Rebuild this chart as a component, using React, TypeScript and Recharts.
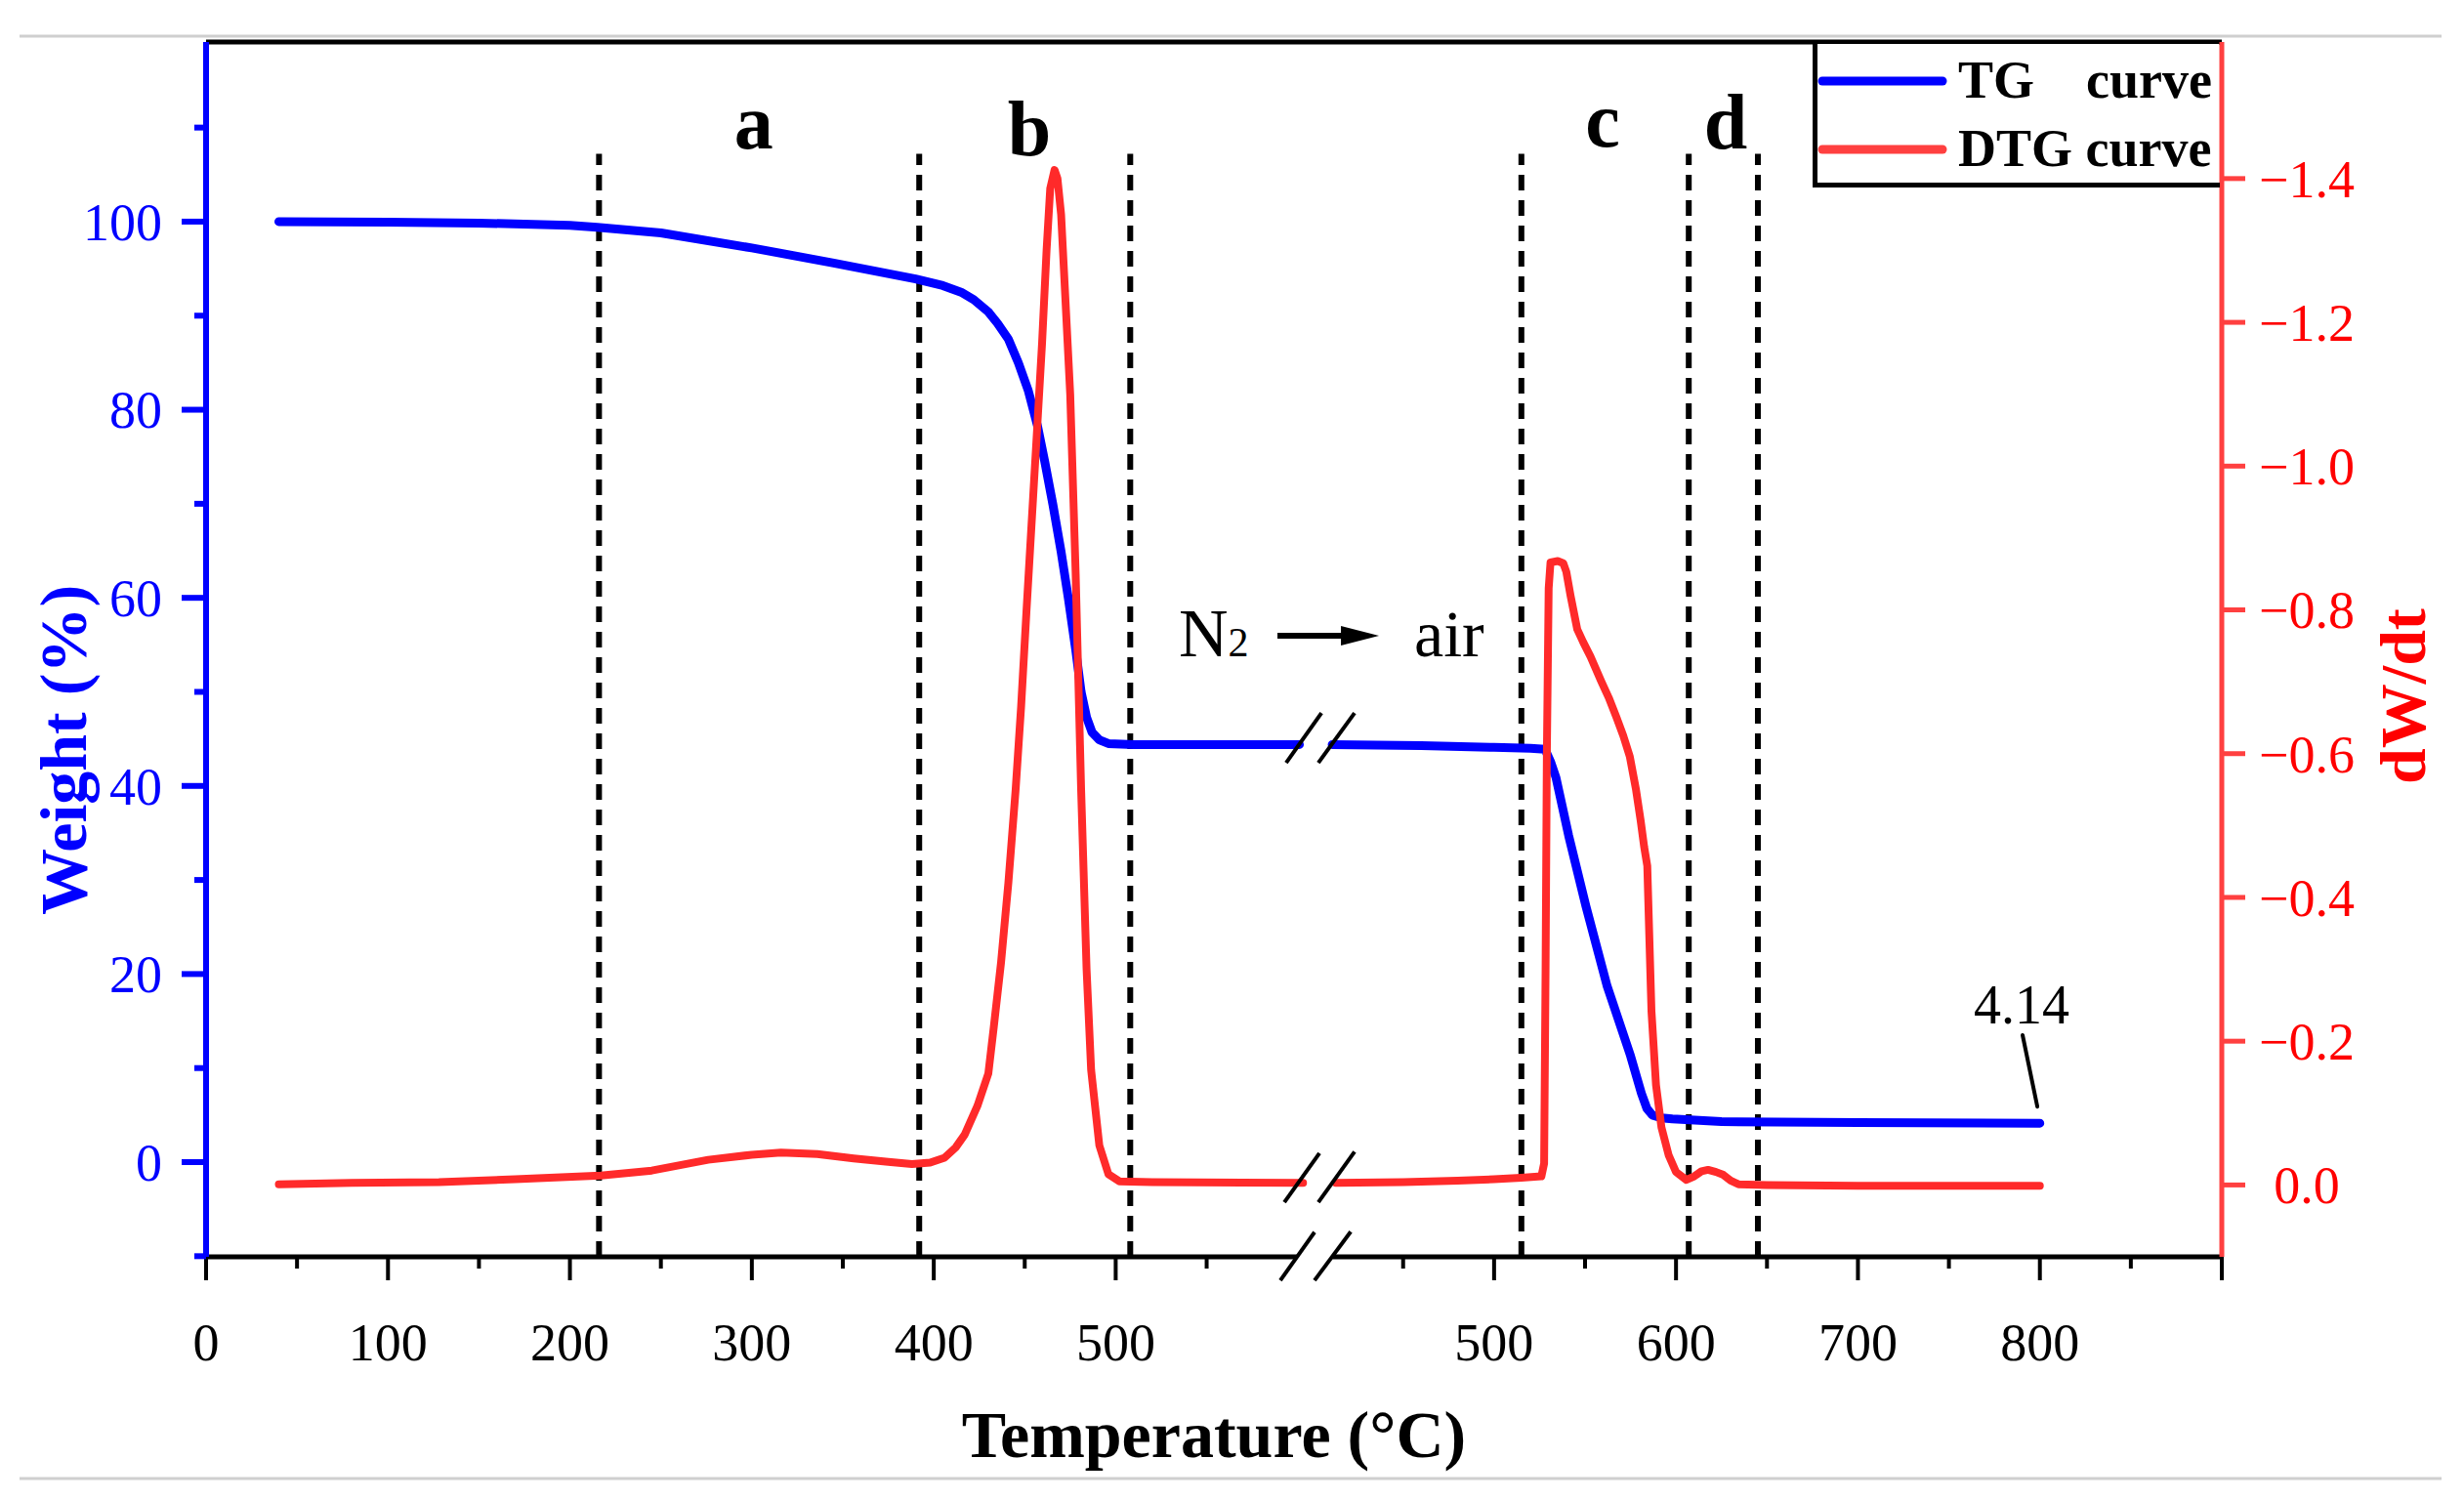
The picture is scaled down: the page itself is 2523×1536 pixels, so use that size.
import React from 'react';
import { LineChart, Line, XAxis, YAxis, ReferenceLine, ReferenceDot, Label } from 'recharts';

const FONT = "'Liberation Serif', 'Times New Roman', Times, serif";
const CHART_W = 2507;
const CHART_H = 1520;

// broken temperature axis: the "air" part is drawn shifted by BREAK_OFFSET axis units
const BREAK_OFFSET = 208;
const X_END = 900;

// TG (weight %) — N2 part, [T, weight]
const TG_N2: [number, number][] = [
  [40, 100.0], [100, 99.95], [150, 99.85], [200, 99.6], [215, 99.4], [250, 98.8], [300, 97.2],
  [345, 95.6], [390, 93.9], [405, 93.2], [415, 92.5], [422, 91.7], [430, 90.4], [435, 89.2],
  [441, 87.5], [446.5, 85.0], [452, 82.0], [457, 78.3], [461, 74.5], [465.5, 69.9], [470, 64.9],
  [474, 59.9], [478, 54.5], [481, 50.0], [484, 47.3], [487, 45.7], [491, 44.9], [496, 44.5],
  [510, 44.4], [601, 44.4],
];
// TG — air part
const TG_AIR: [number, number][] = [
  [411, 44.4], [460, 44.3], [500, 44.1], [520, 44.0], [528, 43.9], [531, 42.6], [534, 40.9],
  [541, 34.7], [550.5, 27.2], [562, 18.8], [575, 11.3], [581, 7.3], [584, 5.7], [587, 5.0], [592, 4.7],
  [598, 4.6], [625, 4.3], [700, 4.2], [800, 4.14],
];
// DTG (dW/dt) — N2 part
const DTG_N2: [number, number][] = [
  [40, -0.001], [80, -0.003], [128, -0.004], [170, -0.008], [217, -0.013], [245, -0.02],
  [276, -0.035], [300, -0.042], [316, -0.045], [336, -0.043], [356, -0.037], [375, -0.032],
  [388, -0.029], [398, -0.031], [406, -0.038], [412, -0.052], [417, -0.07], [424, -0.11],
  [430, -0.155], [433, -0.22], [437, -0.31], [441, -0.42], [445, -0.55], [448, -0.665],
  [451, -0.8], [454, -0.93], [457, -1.06], [459.5, -1.17], [462, -1.3], [464, -1.386],
  [466.4, -1.412], [468, -1.4], [470, -1.35], [472, -1.25], [475, -1.1], [478, -0.85],
  [481, -0.55], [484, -0.3], [486.5, -0.16], [491, -0.055], [496, -0.015], [502, -0.005],
  [520, -0.004], [603, -0.003],
];
// DTG — air part
const DTG_AIR: [number, number][] = [
  [413, -0.003], [450, -0.004], [480, -0.006], [500, -0.008], [515, -0.01], [526, -0.012],
  [527.5, -0.03], [528.3, -0.3], [529, -0.6], [530, -0.83], [531, -0.866], [535, -0.868],
  [538, -0.865], [539.7, -0.853], [542, -0.82], [545.7, -0.773], [549, -0.755], [553, -0.735],
  [559, -0.7], [563, -0.678], [567.2, -0.651], [571, -0.625], [574.6, -0.596], [578, -0.55],
  [580.6, -0.506], [582.5, -0.47], [584.2, -0.444], [585.3, -0.347], [586.5, -0.242],
  [589, -0.139], [592, -0.08], [596, -0.041], [600, -0.018], [605.7, -0.007], [610, -0.012],
  [614, -0.019], [617.6, -0.021], [622, -0.018], [626, -0.014], [630, -0.006], [634.3, -0.001],
  [650, 0], [700, 0.001], [800, 0.001],
];

// axis ticks
const W_MAJOR = [0, 20, 40, 60, 80, 100];
const W_MINOR = [-10, 10, 30, 50, 70, 90, 110];
const D_TICKS = [-1.4, -1.2, -1.0, -0.8, -0.6, -0.4, -0.2, 0];
const X_MAJOR_N2 = [0, 100, 200, 300, 400, 500];
const X_MINOR_N2 = [50, 150, 250, 350, 450, 550];
const X_MAJOR_AIR = [500, 600, 700, 800, 900];
const X_MINOR_AIR = [450, 550, 650, 750, 850];

// stage dividers (temperatures) and stage letters
const DIVIDERS_N2 = [216, 392, 508];
const DIVIDERS_AIR = [515, 607, 645];
const DIVIDER_TOP = 107.2;
const STAGES: { text: string; t: number; air: boolean; w: number }[] = [
  { text: 'a', t: 301, air: false, w: 107.8 },
  { text: 'b', t: 452.5, air: false, w: 107.1 },
  { text: 'c', t: 559.7, air: true, w: 108.0 },
  { text: 'd', t: 627.3, air: true, w: 107.8 },
];

const W_DOMAIN: [number, number] = [-10.07, 119.1];
const D_DOMAIN: [number, number] = [-1.59, 0.1];

// x-axis line pieces and break slashes (axis units / weight units)
const AXIS_PIECES: [number, number][] = [[0, 599.6], [619.3, X_END + BREAK_OFFSET]];
const BREAK_SLASHES: [number, number, number, number][] = [
  [593.7, 42.46, 613.1, 47.76], [611.4, 42.46, 631.3, 47.76],
  [592.7, -4.26, 612.0, 0.95], [611.4, -4.26, 631.3, 1.1],
  [590.5, -12.57, 609.3, -7.45], [609.3, -12.57, 629.2, -7.4],
];

const toN2 = (rows: [number, number][], key: string) => rows.map(([t, v]) => ({ pos: t, [key]: v }));
const toAir = (rows: [number, number][], key: string) => rows.map(([t, v]) => ({ pos: t + BREAK_OFFSET, [key]: v }));

const xTickInfo = new Map<number, { major: boolean; label: string }>();
X_MAJOR_N2.forEach((t) => xTickInfo.set(t, { major: true, label: String(t) }));
X_MINOR_N2.forEach((t) => xTickInfo.set(t, { major: false, label: '' }));
X_MAJOR_AIR.forEach((t) => xTickInfo.set(t + BREAK_OFFSET, { major: true, label: t === X_END ? '' : String(t) }));
X_MINOR_AIR.forEach((t) => xTickInfo.set(t + BREAK_OFFSET, { major: false, label: '' }));
const X_TICKS = Array.from(xTickInfo.keys()).sort((a, b) => a - b);

const LeftTick = (props: any) => {
  const { x, y, payload } = props;
  const v = payload.value;
  const major = W_MAJOR.includes(v);
  return (
    <g>
      <line x1={x - (major ? 25 : 12)} x2={x} y1={y} y2={y} stroke="#0000ff" strokeWidth={6} />
      {major && (
        <text x={x - 45} y={y} dy="0.35em" textAnchor="end" fill="#0000ff" fontSize={54} fontFamily={FONT}>
          {v}
        </text>
      )}
    </g>
  );
};

const RightTick = (props: any) => {
  const { x, y, payload } = props;
  const v = payload.value;
  const txt = Math.abs(v) < 1e-9 ? '0.0' : '\u2212' + Math.abs(v).toFixed(1);
  return (
    <g>
      <line x1={x} x2={x + 24} y1={y} y2={y} stroke="#ff4040" strokeWidth={5} />
      <text x={x + 87} y={y} dy="0.35em" textAnchor="middle" fill="#ff0000" fontSize={54} fontFamily={FONT}>
        {txt}
      </text>
    </g>
  );
};

const BottomTick = (props: any) => {
  const { x, y, payload } = props;
  const info = xTickInfo.get(payload.value) || { major: false, label: '' };
  return (
    <g>
      <line x1={x} x2={x} y1={y} y2={y + (info.major ? 24 : 12)} stroke="#000" strokeWidth={4} />
      {info.label && (
        <text x={x} y={y + 106} textAnchor="middle" fill="#000" fontSize={54} fontFamily={FONT}>
          {info.label}
        </text>
      )}
    </g>
  );
};

export default function App() {
  const xEnd = X_END + BREAK_OFFSET;
  return (
    <div style={{ position: 'relative', width: CHART_W, height: CHART_H }}>
      <LineChart width={CHART_W} height={CHART_H} margin={{ top: 35, right: 0, bottom: 0, left: 0 }}>
        <XAxis
          type="number"
          dataKey="pos"
          domain={[0, xEnd]}
          allowDataOverflow
          ticks={X_TICKS}
          interval={0}
          tick={BottomTick}
          tickLine={false}
          tickSize={0}
          tickMargin={0}
          axisLine={false}
          height={241}
        >
          <Label
            content={() => (
              <text x={1235} y={1484} textAnchor="middle" fontSize={68} fontWeight="bold" fontFamily={FONT} fill="#000">
                Temperature (°C)
              </text>
            )}
          />
        </XAxis>
        <YAxis
          yAxisId="w"
          orientation="left"
          type="number"
          domain={W_DOMAIN}
          allowDataOverflow
          ticks={[...W_MINOR, ...W_MAJOR].sort((a, b) => a - b)}
          interval={0}
          tick={LeftTick}
          tickLine={false}
          tickSize={0}
          tickMargin={0}
          axisLine={{ stroke: '#0000ff', strokeWidth: 6 }}
          width={203}
        >
          <Label
            content={() => (
              <text x={80} y={760} transform="rotate(-90 80 760)" textAnchor="middle" fontSize={68} fontWeight="bold" fontFamily={FONT} fill="#0000ff">
                Weight (%)
              </text>
            )}
          />
        </YAxis>
        <YAxis
          yAxisId="d"
          orientation="right"
          type="number"
          domain={D_DOMAIN}
          reversed
          allowDataOverflow
          ticks={D_TICKS}
          interval={0}
          tick={RightTick}
          tickLine={false}
          tickSize={0}
          tickMargin={0}
          axisLine={{ stroke: '#ff4040', strokeWidth: 5 }}
          width={240}
        >
          <Label
            content={() => (
              <text x={2475} y={705} transform="rotate(-90 2475 705)" textAnchor="middle" fontSize={66} fontWeight="bold" fontFamily={FONT} fill="#ff0000">
                dW/dt
              </text>
            )}
          />
        </YAxis>

        {/* frame top line */}
        <ReferenceLine yAxisId="w" y={W_DOMAIN[1]} stroke="#000" strokeWidth={5} ifOverflow="visible" />
        {/* broken x-axis line */}
        {AXIS_PIECES.map(([a, b], i) => (
          <ReferenceLine
            key={'ax' + i}
            yAxisId="w"
            segment={[{ x: a, y: W_DOMAIN[0] }, { x: b, y: W_DOMAIN[0] }]}
            stroke="#000"
            strokeWidth={5}
            ifOverflow="visible"
          />
        ))}
        {/* stage dividers */}
        {[...DIVIDERS_N2, ...DIVIDERS_AIR.map((t) => t + BREAK_OFFSET)].map((p, i) => (
          <ReferenceLine
            key={'dv' + i}
            yAxisId="w"
            segment={[{ x: p, y: W_DOMAIN[0] }, { x: p, y: DIVIDER_TOP }]}
            stroke="#000"
            strokeWidth={6}
            strokeDasharray="16 10"
            ifOverflow="visible"
          />
        ))}

        <Line
          yAxisId="w"
          data={toN2(TG_N2, 'w')}
          dataKey="w"
          stroke="#0000ff"
          strokeWidth={9}
          strokeLinecap="round"
          strokeLinejoin="round"
          dot={false}
          activeDot={false}
          isAnimationActive={false}
          type="linear"
        />
        <Line
          yAxisId="w"
          data={toAir(TG_AIR, 'w')}
          dataKey="w"
          stroke="#0000ff"
          strokeWidth={9}
          strokeLinecap="round"
          strokeLinejoin="round"
          dot={false}
          activeDot={false}
          isAnimationActive={false}
          type="linear"
        />
        <Line
          yAxisId="d"
          data={toN2(DTG_N2, 'd')}
          dataKey="d"
          stroke="#ff2a2a"
          strokeWidth={8}
          strokeLinecap="round"
          strokeLinejoin="round"
          dot={false}
          activeDot={false}
          isAnimationActive={false}
          type="linear"
        />
        <Line
          yAxisId="d"
          data={toAir(DTG_AIR, 'd')}
          dataKey="d"
          stroke="#ff2a2a"
          strokeWidth={8}
          strokeLinecap="round"
          strokeLinejoin="round"
          dot={false}
          activeDot={false}
          isAnimationActive={false}
          type="linear"
        />

        {/* break slashes */}
        {BREAK_SLASHES.map(([x1, y1, x2, y2], i) => (
          <ReferenceLine
            key={'br' + i}
            yAxisId="w"
            segment={[{ x: x1, y: y1 }, { x: x2, y: y2 }]}
            stroke="#000"
            strokeWidth={4}
            ifOverflow="visible"
          />
        ))}

        {/* stage letters */}
        {STAGES.map((s) => (
          <ReferenceDot
            key={s.text}
            yAxisId="w"
            x={s.air ? s.t + BREAK_OFFSET : s.t}
            y={s.w}
            r={1}
            ifOverflow="visible"
            shape={(p: any) => (
              <text x={p.cx} y={p.cy} textAnchor="middle" fontSize={80} fontWeight="bold" fontFamily={FONT} fill="#000">
                {s.text}
              </text>
            )}
          />
        ))}

        {/* atmosphere switch annotation */}
        <ReferenceDot
          yAxisId="w"
          x={534.7}
          y={53.8}
          r={1}
          ifOverflow="visible"
          shape={(p: any) => (
            <g>
              <text x={p.cx} y={p.cy} fontSize={70} fontFamily={FONT} fill="#000">
                N<tspan fontSize={42}>2</tspan>
              </text>
              <line x1={p.cx + 101} x2={p.cx + 172} y1={p.cy - 21} y2={p.cy - 21} stroke="#000" strokeWidth={6} />
              <polygon
                points={`${p.cx + 166},${p.cy - 31} ${p.cx + 205},${p.cy - 21} ${p.cx + 166},${p.cy - 11}`}
                fill="#000"
              />
              <text x={p.cx + 241} y={p.cy} fontSize={68} fontFamily={FONT} fill="#000">
                air
              </text>
            </g>
          )}
        />

        {/* residue annotation */}
        <ReferenceLine
          yAxisId="w"
          segment={[{ x: 790.5 + BREAK_OFFSET, y: 13.5 }, { x: 798.6 + BREAK_OFFSET, y: 5.9 }]}
          stroke="#000"
          strokeWidth={4}
          strokeLinecap="round"
          ifOverflow="visible"
        />
        <ReferenceDot
          yAxisId="w"
          x={790 + BREAK_OFFSET}
          y={14.74}
          r={1}
          ifOverflow="visible"
          shape={(p: any) => (
            <text x={p.cx} y={p.cy} textAnchor="middle" fontSize={56} fontFamily={FONT} fill="#000">
              4.14
            </text>
          )}
        />
      </LineChart>

      <svg
        width={CHART_W}
        height={CHART_H}
        style={{ position: 'absolute', left: 0, top: 0, pointerEvents: 'none' }}
      >
        {/* page frame lines */}
        <line x1={12} x2={2492} y1={29} y2={29} stroke="#cfcfcf" strokeWidth={3} />
        <line x1={12} x2={2492} y1={1506} y2={1506} stroke="#cfcfcf" strokeWidth={3} />
        {/* legend */}
        <rect x={1853} y={37} width={411} height={142} fill="#fff" />
        <line x1={1850.5} x2={1850.5} y1={35} y2={184} stroke="#000" strokeWidth={5} />
        <line x1={1848} x2={2265} y1={181.5} y2={181.5} stroke="#000" strokeWidth={5} />
        <line x1={1858} x2={1981} y1={75} y2={75} stroke="#0000ff" strokeWidth={9} strokeLinecap="round" />
        <line x1={1858} x2={1981} y1={145} y2={145} stroke="#ff4040" strokeWidth={9} strokeLinecap="round" />
        <text fontSize={54} fontWeight="bold" fontFamily={FONT} fill="#000">
          <tspan x={1997} y={92}>TG</tspan>
          <tspan x={2257} y={92} textAnchor="end">curve</tspan>
        </text>
        <text x={1997} y={162} fontSize={54} fontWeight="bold" fontFamily={FONT} fill="#000">
          DTG curve
        </text>
      </svg>
    </div>
  );
}
